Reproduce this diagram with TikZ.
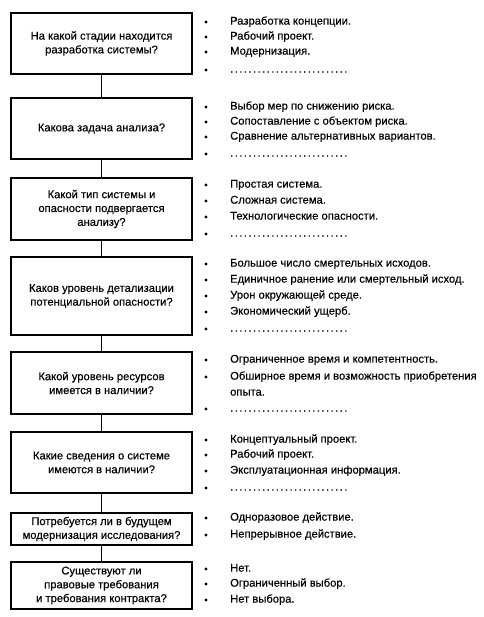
\documentclass[tikz,border=0pt]{standalone}
\usepackage{fontspec}
\setmainfont{Liberation Sans}[UprightFeatures={FakeBold=0.35}]
\newcommand\qfont{\fontsize{11.2}{13.8}\selectfont}
\newcommand\dd{.\kern1.45pt}
\newcommand\dotrow{\dd\dd\dd\dd\dd\dd\dd\dd\dd\dd\dd\dd\dd\dd\dd\dd\dd\dd\dd\dd\dd\dd\dd\dd\dd\dd}
\tikzset{
  qbox/.style={draw, line width=1.5pt, minimum width=181pt, align=center, inner sep=2pt, font=\qfont},
  itemtext/.style={anchor=mid west, inner sep=0pt, font=\qfont},
  bul/.style={circle, fill, inner sep=0pt, minimum size=3.4pt},
  link/.style={line width=1.5pt},
}
\newcommand\ent[3]{\node[bul] (#1b) at (206,#2) {}; \node[itemtext] (#1) at (230,#2) {#3};}
\begin{document}
\begin{tikzpicture}[x=1pt,y=-1pt]
\useasboundingbox (0,0) rectangle (483,617);
% question boxes
\node[qbox, minimum height=61pt] (b1) at (101.5,43.5) {На какой стадии находится\\разработка системы?};
\node[qbox, minimum height=61pt] (b2) at (101.5,128.5) {Какова задача анализа?};
\node[qbox, minimum height=62pt] (b3) at (101.5,209) {Какой тип системы и\\опасности подвергается\\анализу?};
\node[qbox, minimum height=78pt] (b4) at (101.5,296) {Каков уровень детализации\\потенциальной опасности?};
\node[qbox, minimum height=62pt] (b5) at (101.5,383) {Какой уровень ресурсов\\имеется в наличии?};
\node[qbox, minimum height=61pt] (b6) at (101.5,462.5) {Какие сведения о системе\\имеются в наличии?};
\node[qbox, minimum height=32pt] (b7) at (101.5,529) {Потребуется ли в будущем\\модернизация исследования?};
\node[qbox, minimum height=47pt] (b8) at (101.5,585.5) {Существуют ли\\правовые требования\\и требования контракта?};
% connectors
\draw[link] (b1.south) -- (b2.north);
\draw[link] (b2.south) -- (b3.north);
\draw[link] (b3.south) -- (b4.north);
\draw[link] (b4.south) -- (b5.north);
\draw[link] (b5.south) -- (b6.north);
\draw[link] (b6.south) -- (b7.north);
\draw[link] (b7.south) -- (b8.north);
% answers
\ent{a11}{22}{Разработка концепции.}
\ent{a12}{37}{Рабочий проект.}
\ent{a13}{52}{Модернизация.}
\ent{a14}{70}{\dotrow}
\ent{a21}{107}{Выбор мер по снижению риска.}
\ent{a22}{122}{Сопоставление с объектом риска.}
\ent{a23}{137}{Сравнение альтернативных вариантов.}
\ent{a24}{154}{\dotrow}
\ent{a31}{185}{Простая система.}
\ent{a32}{201}{Сложная система.}
\ent{a33}{217}{Технологические опасности.}
\ent{a34}{234}{\dotrow}
\ent{a41}{264}{Большое число смертельных исходов.}
\ent{a42}{280}{Единичное ранение или смертельный исход.}
\ent{a43}{296}{Урон окружающей среде.}
\ent{a44}{312}{Экономический ущерб.}
\ent{a45}{329}{\dotrow}
\ent{a51}{360}{Ограниченное время и компетентность.}
\ent{a52}{377}{Обширное время и возможность приобретения}
\node[itemtext] (a52c) at (230,393) {опыта.};
\ent{a53}{409}{\dotrow}
\ent{a61}{440}{Концептуальный проект.}
\ent{a62}{455}{Рабочий проект.}
\ent{a63}{471}{Эксплуатационная информация.}
\ent{a64}{488}{\dotrow}
\ent{a71}{518}{Одноразовое действие.}
\ent{a72}{535}{Непрерывное действие.}
\ent{a81}{569}{Нет.}
\ent{a82}{584}{Ограниченный выбор.}
\ent{a83}{600}{Нет выбора.}
\end{tikzpicture}
\end{document}
